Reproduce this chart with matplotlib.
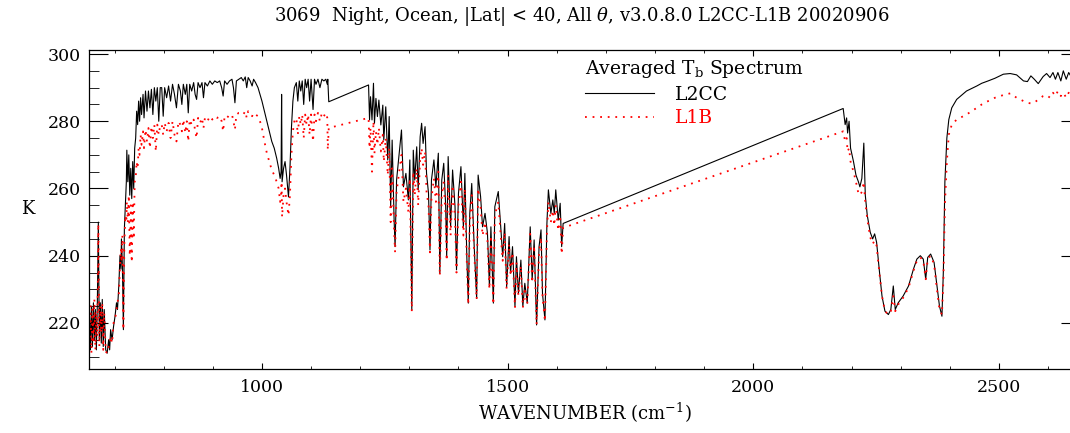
import matplotlib
matplotlib.use('Agg')
import matplotlib.pyplot as plt
from matplotlib.ticker import MultipleLocator

# averaged brightness temperature spectrum
# band 1: 649-1136 cm-1
band1_wn = [649, 651, 653, 655, 657, 659, 661, 663, 665, 667,
            669, 671, 673, 675, 677, 679, 682, 685, 688, 690,
            692, 695, 698, 701, 704, 706, 709, 711, 713, 714,
            716, 718, 720, 722, 724, 725, 727, 729, 731, 733,
            735, 737, 739, 741, 743, 745, 747, 749, 751, 753,
            755, 758, 760, 763, 766, 769, 772, 775, 778, 781,
            784, 787, 790, 793, 796, 799, 802, 806, 810, 814,
            818, 822, 826, 830, 834, 837, 840, 844, 847, 850,
            853, 857, 861, 864, 867, 870, 874, 878, 881, 884,
            889, 894, 899, 904, 909, 914, 918, 921, 924, 929,
            934, 939, 942, 945, 948, 953, 958, 962, 966, 969,
            972, 976, 980, 983, 987, 992, 996, 1000, 1005, 1010,
            1015, 1020, 1025, 1030, 1034, 1037, 1039, 1040, 1041, 1044,
            1047, 1050, 1054, 1057, 1060, 1063, 1066, 1070, 1073, 1076,
            1079, 1082, 1085, 1088, 1091, 1094, 1097, 1100, 1104, 1107,
            1110, 1114, 1118, 1122, 1126, 1130, 1133, 1134, 1136]
band1_l2cc = [222, 212, 225, 213, 226, 215, 224, 212, 226, 250,
              215, 226, 214, 227, 213, 224, 212, 211, 215, 212,
              218, 215, 219, 222, 226, 224, 232, 240, 236, 245,
              237, 218, 248, 255, 262, 271.4, 262, 270, 258, 266,
              257, 268, 260, 272, 275, 283, 279, 286, 280, 287,
              282, 288, 281, 289, 283, 289, 284, 289.5, 282, 290,
              286, 290, 280, 290, 290, 281.5, 290, 287, 290.5, 286,
              291, 288, 284, 291, 289, 285, 291, 288, 291, 282.5,
              291, 289, 291.5, 288, 286.5, 291.5, 290, 291.5, 287, 291.5,
              290.5, 292, 291, 292, 291.5, 292, 290, 287.5, 292, 291,
              292, 292.5, 290, 285.5, 292, 292.5, 293, 292, 293.2, 290,
              293, 292, 290.5, 292.5, 291.5, 290, 288, 286, 283, 280,
              277, 274, 272, 269, 266, 263, 265, 288, 262, 266,
              268, 264, 257.5, 266, 278, 286, 290, 291.5, 286, 292,
              289, 292, 285, 292.5, 290, 292.5, 286, 292.5, 283.5, 292.5,
              291, 292.5, 290, 292.5, 292, 292.5, 291, 292.5, 285.8]
band1_l1b = [218, 225, 211, 224, 214, 227, 212, 223, 216, 249.5,
             213, 225, 217, 226, 212, 223, 211.5, 211, 213, 214,
             216, 214, 220, 221, 224, 226, 229, 237, 242, 238,
             246, 218, 244, 252, 250, 256, 250, 258, 240, 255,
             238, 256, 245, 262, 263, 268, 266, 272, 270, 276,
             273, 277, 272, 277.5, 274, 278, 272, 278.5, 275, 279,
             271, 279, 276, 279, 279, 276, 279.5, 277, 279.5, 275,
             280, 276, 274, 280, 279, 277, 280.5, 276.5, 280, 274,
             280.5, 279, 280.5, 277, 275, 281, 279.5, 281, 278, 281,
             280, 281.5, 280.5, 281.5, 281, 281.5, 280, 277, 281.5, 281,
             282, 282, 280, 277.5, 282, 282.5, 282.5, 282, 283, 281,
             283, 282.5, 281.5, 282.5, 282, 281.5, 280, 278, 274, 270.5,
             268, 265.5, 264, 262, 260, 256, 258, 262, 251.5, 258,
             260, 256, 252, 258, 270, 277, 280, 281, 276, 281.5,
             279, 282, 275, 282, 279, 282, 276, 282, 274, 282,
             280, 282.5, 280, 282.5, 281.5, 282.5, 281, 271.5, 278]

# band 2: 1217-1613 cm-1
band2_wn = [1217, 1219, 1221, 1224, 1227, 1229, 1232, 1235, 1238, 1242,
            1246, 1248, 1252, 1256, 1259, 1262, 1265, 1269, 1271, 1274,
            1284, 1288, 1293, 1298, 1301, 1305, 1308, 1311, 1315, 1318,
            1322, 1325, 1328, 1332, 1335, 1339, 1342, 1345, 1350, 1354,
            1359, 1362, 1366, 1370, 1374, 1376, 1379, 1384, 1388, 1393,
            1396, 1400, 1405, 1410, 1413, 1417, 1420, 1423, 1427, 1432,
            1437, 1440, 1445, 1449, 1454, 1459, 1463, 1466, 1471, 1474,
            1481, 1486, 1490, 1494, 1498, 1503, 1506, 1510, 1515, 1518,
            1522, 1527, 1531, 1535, 1540, 1546, 1550, 1554, 1559, 1564,
            1568, 1571, 1576, 1580, 1583, 1588, 1592, 1595, 1598, 1603,
            1607, 1610, 1613]
band2_l2cc = [290.8, 280.4, 287.3, 280.4, 291.3, 279.4, 286.8, 281.4, 286.3, 278.9,
              284.8, 274.4, 284.3, 268.5, 281.4, 254.6, 274.4, 250.6, 242.7, 262.5,
              277.4, 260.5, 264.5, 256.6, 268.5, 223.9, 271.4, 262.5, 272.4, 259.6,
              275.4, 279.4, 273.4, 278.4, 264.5, 258.6, 241.7, 262.5, 268.5, 260.5,
              270.5, 234.8, 262.5, 267.5, 254.6, 239.7, 269.5, 248.6, 265.5, 254.6,
              235.8, 258.6, 266.5, 248.6, 264.5, 239.7, 225.9, 252.6, 261.5, 242.7,
              227.3, 264, 257.6, 248.6, 252.6, 246.7, 230.8, 248.6, 225.9, 254.6,
              259.1, 248.6, 239.7, 249.6, 230.8, 245.7, 234.8, 242.7, 224.9, 239.7,
              228.8, 238.7, 224.9, 231.8, 225.9, 248.6, 232.8, 244.7, 219.4, 242.7,
              247.7, 228.8, 220.9, 249.6, 259.6, 252.6, 256.6, 252.6, 259.6, 250.6,
              255.6, 242.7, 249.6]
band2_l1b = [281, 272, 278, 265, 280, 270.5, 277, 273, 278, 271,
             276, 268, 275, 264, 272, 250, 266, 247.5, 241, 259,
             270, 256, 260, 253, 263, 223.4, 265, 258, 266, 255,
             269, 272, 267, 271, 259, 255, 241, 257, 263, 256,
             265, 234, 258, 262, 251, 238.5, 264, 246, 261, 251,
             235, 255, 262, 246, 260, 238, 225.5, 250, 258, 241,
             227, 260, 254.5, 246, 250, 244.5, 230, 246, 225.5, 252,
             256, 246, 238.5, 247, 230, 243.5, 234, 241, 224.5, 238,
             228, 237, 224.5, 230.5, 225.5, 246.5, 232, 243, 219.5, 241,
             245.5, 228, 220.5, 247, 256, 250, 253.5, 249, 255, 247.5,
             252, 240.5, 248.3]

# band 3: 2181-2665 cm-1
band3_wn = [2183, 2187, 2190, 2192, 2195, 2198, 2204, 2209, 2214, 2217,
            2221, 2225, 2228, 2232, 2238, 2243, 2247, 2251, 2257, 2262,
            2268, 2275, 2280, 2285, 2289, 2295, 2305, 2316, 2326, 2333,
            2340, 2346, 2351, 2355, 2361, 2368, 2373, 2379, 2384, 2387,
            2390, 2394, 2398, 2404, 2414, 2434, 2455, 2465, 2478, 2492,
            2509, 2523, 2536, 2550, 2558, 2565, 2572, 2580, 2590, 2597,
            2604, 2610, 2615, 2620, 2626, 2631, 2637, 2642, 2648, 2654,
            2660, 2665]
band3_l2cc = [283.8, 279, 281, 276.5, 280, 272, 268, 264, 262, 260.5,
              263, 273.5, 258, 252, 247, 245, 246.5, 244, 235, 228,
              223.5, 222.5, 224, 231, 224, 226, 228, 231, 236, 239,
              240, 239, 233, 239.5, 240.5, 238, 232, 225, 222, 236,
              262, 275, 280.5, 284, 286.5, 289, 290.5, 291.3, 292, 292.8,
              294, 294.2, 293.8, 292, 291.8, 293.5, 292.5, 291.2, 293.3, 294.2,
              293, 294.5, 292.5, 294.5, 292, 295, 292.5, 294.5, 293, 294.5,
              292.5, 294]
band3_l1b = [277, 274, 275, 271, 272, 268, 265, 262, 258.5, 258,
             259, 262, 256, 251, 245.5, 243.5, 244.5, 243, 234.5, 228,
             223.5, 222.5, 223.5, 228, 223.5, 225.5, 227.5, 230.5, 235.5, 238.5,
             239.5, 238.5, 233, 239, 240, 237.5, 231, 224, 222.5, 233,
             255, 268, 276, 279, 280.5, 282, 284, 285, 286, 287,
             287.8, 288.3, 287, 286, 285.5, 285.3, 285.5, 286.5, 287.5, 287.8,
             287, 288.5, 287.5, 289, 287.5, 288.5, 287, 288.5, 287.5, 288.5,
             287.5, 288.5]

wn = band1_wn + band2_wn + band3_wn
l2cc = band1_l2cc + band2_l2cc + band3_l2cc
l1b = band1_l1b + band2_l1b + band3_l1b

plt.rcParams['font.family'] = 'DejaVu Serif'
plt.rcParams['mathtext.fontset'] = 'dejavuserif'

fig = plt.figure(figsize=(10.7, 4.33), dpi=100)
ax = fig.add_axes([89 / 1070, 64 / 433, 991 / 1070, 319 / 433])

ax.plot(wn, l2cc, color='black', lw=0.8, label='L2CC')
ax.plot(wn, l1b, color='red', lw=1.3, linestyle=(0, (1, 3.2)), label='L1B')

ax.set_xlim(648, 2665)
ax.set_ylim(206.3, 301.2)
ax.xaxis.set_major_locator(MultipleLocator(500))
ax.xaxis.set_minor_locator(MultipleLocator(100))
ax.yaxis.set_major_locator(MultipleLocator(20))
ax.yaxis.set_minor_locator(MultipleLocator(5))
ax.tick_params(which='both', direction='in', top=True, right=True, labelsize=12.5)
ax.tick_params(axis='x', which='major', length=4.3, pad=7)
ax.tick_params(axis='x', which='minor', length=2.2)
ax.tick_params(axis='y', which='major', length=13.7, pad=6)
ax.tick_params(axis='y', which='minor', length=7.2)
for s in ax.spines.values():
    s.set_linewidth(0.9)

ax.set_xlabel('WAVENUMBER (cm$^{-1}$)', fontsize=13, labelpad=4)
ax.set_ylabel('K', fontsize=13, rotation=0, labelpad=14, va='center')

fig.text(582 / 1070, 1 - 17 / 433,
         '3069  Night, Ocean, |Lat| < 40, All $\\theta$, v3.0.8.0 L2CC-L1B 20020906',
         ha='center', va='center', fontsize=13)

leg = ax.legend(loc='upper left', bbox_to_anchor=(585 / 1070, 1 - 58 / 433),
                bbox_transform=fig.transFigure, frameon=False, fontsize=13.5,
                title='Averaged T$_\\mathrm{b}$ Spectrum', title_fontsize=13.5,
                handlelength=3.7, handletextpad=1.1, borderpad=0, borderaxespad=0,
                labelspacing=0.3, labelcolor=['black', 'red'], alignment='left')

fig.savefig('out.png', dpi=100)
